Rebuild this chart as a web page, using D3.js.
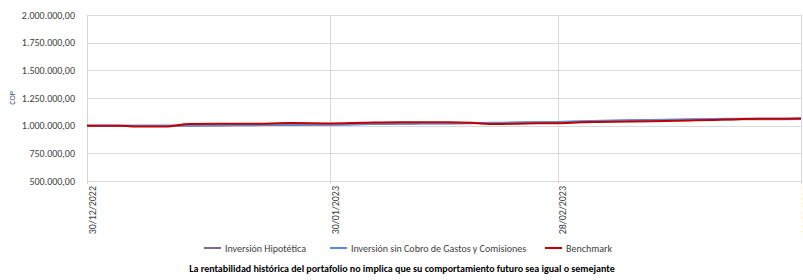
<!DOCTYPE html>
<html>
<head>
<meta charset="utf-8">
<script src="https://cdn.jsdelivr.net/npm/d3@7"></script>
<style>
    body { margin: 0; background: #fff; }
    svg text { font-family: Carlito, Calibri, "Liberation Sans", sans-serif; }
</style>
</head>
<body>
<div id="chart"></div>
<script>
const [svgW, svgH] = [803, 280];
const margin = {left: 87, right: 2, top: 15, bottom: 99};

// fechas de valoracion y series
const dates = ["2022-12-30", "2023-01-03", "2023-01-06", "2023-01-09", "2023-01-12", "2023-01-16",
    "2023-01-20", "2023-01-25", "2023-01-30", "2023-02-03", "2023-02-08", "2023-02-14",
    "2023-02-17", "2023-02-20", "2023-02-24", "2023-02-28", "2023-03-03", "2023-03-07",
    "2023-03-12", "2023-03-17", "2023-03-20", "2023-03-23", "2023-03-27", "2023-03-31"];

const hipotetica = [1000000, 999500, 998500, 999200, 1000000, 1002500, 1004500, 1007000, 1009000,
    1013000, 1017500, 1019500, 1021000, 1023000, 1027000, 1030500, 1036000, 1042000,
    1047500, 1053000, 1056000, 1057500, 1058500, 1059500];

const sinCobro = [1000000, 1000000, 999000, 1000000, 1001000, 1004000, 1006000, 1009000, 1011000,
    1015000, 1020000, 1022000, 1024000, 1026000, 1030000, 1034000, 1040000, 1046000,
    1052000, 1058000, 1061000, 1062000, 1063000, 1064000];

const benchmark = [1000000, 999000, 992000, 992000, 1014000, 1018000, 1017000, 1023000, 1020000,
    1026000, 1032000, 1031000, 1026000, 1014000, 1020000, 1022000, 1030000, 1036000,
    1040000, 1047000, 1052000, 1059000, 1062000, 1064000];

const yTicks = [500000, 750000, 1000000, 1250000, 1500000, 1750000, 2000000];
const xTicks = ["2022-12-30", "2023-01-30", "2023-02-28", "2023-03-31"];

const seriesNames = ["Inversión Hipotética", "Inversión sin Cobro de Gastos y Comisiones", "Benchmark"];
const seriesColors = ["#8064A2", "#5B8BD6", "#C00000"];

const parse = d3.utcParse("%Y-%m-%d");
const fmtDate = d3.utcFormat("%d/%m/%Y");
const fmtNum = d3.formatLocale({decimal: ",", thousands: ".", grouping: [3], currency: ["", ""]}).format(",.2f");

function main() {
    var svg = d3.select("#chart").append("svg").attr("width", svgW).attr("height", svgH);

    var x = d3.scaleUtc()
        .domain([parse(xTicks[0]), parse(xTicks[xTicks.length - 1])])
        .range([margin.left, svgW - margin.right]);
    var y = d3.scaleLinear()
        .domain([500000, 2000000])
        .range([svgH - margin.bottom, margin.top]);

    // rejilla horizontal
    svg.append("g")
        .attr("transform", "translate(" + margin.left + ",0)")
        .call(d3.axisLeft(y).tickValues(yTicks).tickSize(-(svgW - margin.left - margin.right)).tickFormat(fmtNum))
        .call(g => g.select(".domain").remove())
        .call(g => g.selectAll(".tick line").attr("stroke", "#d9d9d9").attr("shape-rendering", "crispEdges"))
        .call(g => g.selectAll(".tick text").attr("x", -12).attr("fill", "#404040").style("font-size", "10px"));

    // rejilla vertical y etiquetas de fecha
    svg.append("g")
        .attr("transform", "translate(0," + (svgH - margin.bottom) + ")")
        .call(d3.axisBottom(x).tickValues(xTicks.map(parse)).tickSize(3).tickFormat(fmtDate))
        .call(g => g.select(".domain").remove())
        .call(g => g.selectAll(".tick line").attr("stroke", "#d9d9d9").attr("y1", -(svgH - margin.bottom - margin.top)).attr("shape-rendering", "crispEdges"))
        .call(g => g.selectAll(".tick text")
            .attr("fill", "#404040").style("font-size", "10px")
            .attr("text-anchor", "end")
            .attr("transform", "translate(8,5) rotate(-90)")
            .attr("x", 0).attr("y", 0).attr("dy", 0));

    svg.append("line")
        .attr("x1", margin.left).attr("x2", margin.left)
        .attr("y1", margin.top).attr("y2", svgH - margin.bottom + 3)
        .attr("stroke", "#d9d9d9").attr("shape-rendering", "crispEdges");

    svg.append("text")
        .attr("transform", "translate(15," + y(1250000) + ") rotate(-90)")
        .attr("text-anchor", "middle")
        .attr("fill", "#44546A").style("font-size", "8px")
        .text("COP");

    var line = d3.line()
        .x((d, i) => x(parse(dates[i])))
        .y(d => y(d))
        .curve(d3.curveMonotoneX);

    [hipotetica, sinCobro, benchmark].forEach(function (values, i) {
        svg.append("path")
            .attr("d", line(values))
            .attr("fill", "none")
            .attr("stroke", seriesColors[i])
            .attr("stroke-width", 2);
    });

    // leyenda
    var legendX = [204, 330, 545];
    var legend = svg.append("g");
    seriesNames.forEach(function (name, i) {
        legend.append("line")
            .attr("x1", legendX[i]).attr("x2", legendX[i] + 17)
            .attr("y1", 248).attr("y2", 248)
            .attr("stroke", seriesColors[i]).attr("stroke-width", 2);
        legend.append("text")
            .attr("x", legendX[i] + 21).attr("y", 251.5)
            .attr("fill", "#404040").style("font-size", "10px")
            .text(name);
    });

    svg.append("text")
        .attr("x", 402).attr("y", 272)
        .attr("text-anchor", "middle")
        .attr("fill", "#000").style("font-size", "10px").style("font-weight", "bold")
        .text("La rentabilidad histórica del portafolio no implica que su comportamiento futuro sea igual o semejante");
}

main();
</script>
</body>
</html>
